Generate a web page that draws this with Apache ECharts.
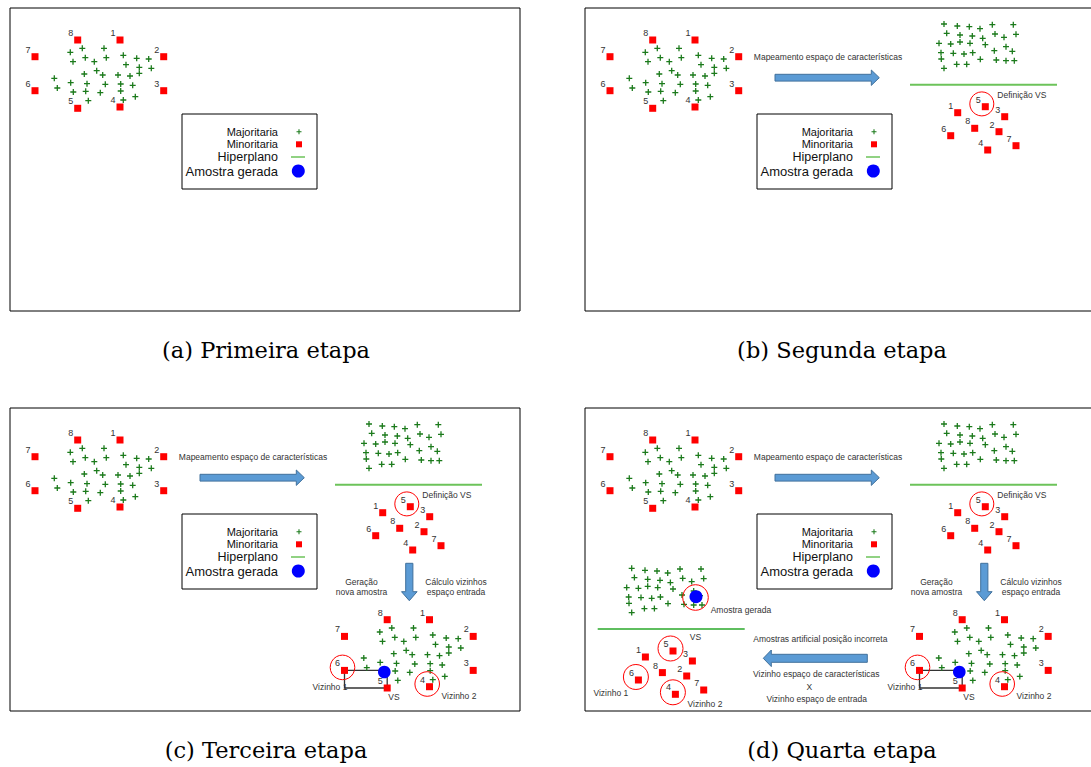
<!DOCTYPE html>
<html><head><meta charset="utf-8">
<script src="https://cdn.jsdelivr.net/npm/echarts@6/dist/echarts.min.js"></script>
<style>html,body{margin:0;padding:0;background:#fff}#c{width:1091px;height:767px}</style>
</head><body><div id="c"></div>
<script>
// ---------------- data (panel-local units) ----------------
const minorityLabels = ['1','2','3','4','5','6','7','8'];
// input space: minority samples 1..8
const inputMinority = [[110,32],[153.7,48.7],[153.7,82.7],[110,99],[67.7,100.3],[25,82.7],[25,48.7],[67.7,32]];
// input space: majority samples
const inputMajority = [[60.3,44.3],[72.3,40.3],[94,40.3],[63,53.7],[75.3,49.7],[84.3,53.7],[96.3,49.7],[113.3,47.3],[126.7,50.3],[138.7,51],[116,56.7],[129.3,59.3],[141.3,60.3],[86.7,62.7],[92.7,67],[74.3,66],[108,67],[120,68],[129.3,65.3],[44.3,70.3],[47.3,80],[60.7,74.7],[77,75.7],[95.3,76.3],[110.7,76],[122.7,77.3],[63.3,84],[75.7,83.3],[90.3,84.7],[110.7,83],[78.3,92.7],[113.3,92],[125.3,88.7]];
// feature space: minority samples 1..8
const featureMinority = [[372.7,104.7],[414,123.7],[419.7,108.7],[402.7,142],[400.3,98.7],[365.7,127.7],[431,137.7],[389.7,120.3]];
// feature space: majority samples
const featureMajority = [[359,16],[372.3,18],[384.3,18.7],[395,20.7],[407.3,16.7],[428.3,16.7],[361.7,25.3],[375,27],[387.3,28],[397.7,30.3],[410,26],[419,29.3],[431,26.3],[354,35.3],[365.7,36],[375,34],[385,35.3],[400.3,36.7],[421,38.7],[427.3,43.3],[409.3,42.7],[356,44.7],[368.3,45.3],[379,46],[387.7,44.7],[356.3,51],[395.3,51.3],[411.3,52],[421,52.7],[429.3,52.7],[359,60.3],[371.7,56.3],[381.7,56.3]];
// hyperplane in feature space
const hyperplane = [[325,76.7],[472,76.7]];
// generated sample (input-space frame / feature-space frame)
const generatedInput = [64.8,84.3];
const generatedFeature = [423.3,44.4];
const legendLabels = ['Majoritaria','Minoritaria','Hiperplano','Amostra gerada'];
const captions = ['(a) Primeira etapa','(b) Segunda etapa','(c) Terceira etapa','(d) Quarta etapa'];
const stepTexts = {
  mapping: 'Mapeamento espaço de características',
  definition: 'Definição VS',
  generation: ['Geração','nova amostra'],
  neighbours: ['Cálculo vizinhos','espaço entrada'],
  vs: 'VS', n1: 'Vizinho 1', n2: 'Vizinho 2',
  generated: 'Amostra gerada',
  wrong: 'Amostras artificial posição incorreta',
  compare: ['Vizinho espaço de características','X','Vizinho espaço de entrada']
};

// ---------------- layout ----------------
const FONT = "'Liberation Sans', Arial, sans-serif";
const PANELS = [[10,8],[585,8],[10,408],[585,408]];
const PW = 510, PH = 303;
const INPUT_SHIFT = [309.5,179.7];
const FEATURE_SHIFT = [-312.3,144.3];
const PLUS = 'path://M2.75,0h1.5v7h-1.5zM0,2.75h7v1.5h-7z';
const GREEN = '#1b7a1b', RED = '#ff0000', LINEG = '#6cc35a', LINEG2 = '#2aa82a', BLUE = '#0000ff', TXT = '#333';

const shift = (pts, d) => pts.map(p => [p[0] + d[0], p[1] + d[1]]);

const T = (x,y,text,size,align,color) => ({x,y,draw:p=>({type:'text',x:p[0],y:p[1],style:{text,fontSize:size||8.5,fontFamily:FONT,fill:color||TXT,align:align||'center',verticalAlign:'middle'}})});
const C = (x,y,r,stroke,fill,lw) => ({x,y,draw:p=>({type:'circle',shape:{cx:p[0],cy:p[1],r},style:{fill:fill||'none',stroke:stroke||'none',lineWidth:lw||1}})});
const R = (x1,y1,x2,y2,stroke,lw) => ({x:x1,y:y1,draw:(p,api)=>{const q=api.coord([x2,y2]);return {type:'rect',shape:{x:Math.min(p[0],q[0]),y:Math.min(p[1],q[1]),width:Math.abs(q[0]-p[0]),height:Math.abs(q[1]-p[1])},style:{fill:'none',stroke,lineWidth:lw||1}};}});
const Ln = (x1,y1,x2,y2,stroke,lw) => ({x:x1,y:y1,draw:(p,api)=>{const q=api.coord([x2,y2]);return {type:'line',shape:{x1:p[0],y1:p[1],x2:q[0],y2:q[1]},style:{stroke,lineWidth:lw||1}};}});
const A = (x1,y1,x2,y2,bw,hw,hl) => ({x:x1,y:y1,draw:(p,api)=>{
  const q=api.coord([x2,y2]); const dx=q[0]-p[0], dy=q[1]-p[1]; const len=Math.hypot(dx,dy);
  const ux=dx/len, uy=dy/len, nx=-uy, ny=ux; const bx=q[0]-ux*hl, by=q[1]-uy*hl;
  const pts=[[p[0]+nx*bw,p[1]+ny*bw],[bx+nx*bw,by+ny*bw],[bx+nx*hw,by+ny*hw],[q[0],q[1]],[bx-nx*hw,by-ny*hw],[bx-nx*bw,by-ny*bw],[p[0]-nx*bw,p[1]-ny*bw]];
  return {type:'polygon',shape:{points:pts},style:{fill:'#5b9bd5',stroke:'#41719c',lineWidth:1}};
}});

function elems(gi, items, z){
  return {type:'custom',xAxisIndex:gi,yAxisIndex:gi,silent:true,clip:false,z:z||4,
    data:items.map(it=>[it.x,it.y]),
    renderItem:(params,api)=>{const it=items[params.dataIndex];const p=api.coord([it.x,it.y]);return it.draw(p,api);}};
}
function majority(gi, pts, size){
  return {type:'scatter',xAxisIndex:gi,yAxisIndex:gi,data:pts,symbol:PLUS,symbolSize:size||6,itemStyle:{color:GREEN,opacity:1},silent:true,z:3};
}
function minority(gi, pts, size){
  return {type:'scatter',xAxisIndex:gi,yAxisIndex:gi,data:pts,symbol:'rect',symbolSize:size||7,itemStyle:{color:RED,opacity:1},silent:true,z:3};
}
function numberLabels(gi, pts){
  return elems(gi, pts.map((p,i)=>T(p[0]-7,p[1]-7,minorityLabels[i],9)), 5);
}
function hyper(gi, pts, color, width){
  return {type:'line',xAxisIndex:gi,yAxisIndex:gi,data:pts,symbol:'none',lineStyle:{color:color||LINEG,width:width||2},silent:true,z:2};
}
function cluster(S, gi, maj, mino){
  S.push(majority(gi, maj));
  S.push(minority(gi, mino));
  S.push(numberLabels(gi, mino));
}

function buildPanel(gi){
  const S = [];
  // stage (a): input space + legend
  cluster(S, gi, inputMajority, inputMinority);
  S.push(elems(gi,[R(172,106,307,181,'#000',1),
    T(268,123.7,legendLabels[0],11,'right','#111'),
    T(268,136.3,legendLabels[1],11,'right','#111'),
    T(268,148.7,legendLabels[2],12.5,'right','#111'),
    T(268,163,legendLabels[3],13,'right','#111'),
    Ln(281,149,295,149,LINEG,1.5),
    C(288.3,163,6.5,null,BLUE)]));
  S.push(majority(gi,[[289,123.7]],5));
  S.push(minority(gi,[[289,136.3]],6));
  if (gi < 1) return S;
  // stage (b): mapping to feature space
  S.push(hyper(gi, hyperplane));
  cluster(S, gi, featureMajority, featureMinority);
  const f5 = featureMinority[4];
  S.push(elems(gi,[T(243,49.3,stepTexts.mapping),A(190,69.7,294.3,69.7,3.4,7.7,8),
    C(f5[0]-3.5,f5[1]-2.8,12,RED),T(412.3,87.3,stepTexts.definition,8.5,'left')]));
  if (gi < 2) return S;
  // stage (c): generation in input space
  const inS = shift(inputMinority, INPUT_SHIFT);
  cluster(S, gi, shift(inputMajority, INPUT_SHIFT), inS);
  const g = shift([generatedInput], INPUT_SHIFT)[0];
  S.push(elems(gi,[R(inS[5][0],inS[5][1],inS[4][0],inS[4][1],'#333',1.3)],2));
  S.push(elems(gi,[A(399.3,155.3,399.3,192.7,3.6,7.8,9),
    T(351.5,174.3,stepTexts.generation[0]),T(351.5,184.3,stepTexts.generation[1]),
    T(446,174.3,stepTexts.neighbours[0]),T(446,184.3,stepTexts.neighbours[1]),
    C(g[0],g[1],6.3,null,BLUE),
    C(inS[5][0]-2,inS[5][1]-3,12.3,RED),C(inS[3][0]-2.3,inS[3][1]-2.7,12.3,RED),
    T(320,279,stepTexts.n1),T(384,289,stepTexts.vs),T(449,288,stepTexts.n2)]));
  if (gi < 3) return S;
  // stage (d): feature-space check
  const fS = shift(featureMinority, FEATURE_SHIFT);
  S.push(hyper(gi, shift(hyperplane, FEATURE_SHIFT), LINEG2, 1.4));
  cluster(S, gi, shift(featureMajority, FEATURE_SHIFT), fS);
  const gf = shift([generatedFeature], FEATURE_SHIFT)[0];
  S.push(elems(gi,[C(gf[0],gf[1],6.5,null,BLUE),C(gf[0]-0.5,gf[1]+0.8,12.8,RED),
    T(125.7,202,stepTexts.generated,8.5,'left'),T(110.5,228.7,stepTexts.vs),
    C(fS[4][0]-2.5,fS[4][1]-2.5,12.5,RED),C(fS[5][0]-2.5,fS[5][1]-3,12.5,RED),C(fS[3][0]-2.5,fS[3][1]-2,12.5,RED),
    T(25.8,284.7,stepTexts.n1),T(120,296,stepTexts.n2),
    A(282.3,250.3,178.3,250.3,4,8.3,8),
    T(235.3,231.3,stepTexts.wrong),T(231.3,266,stepTexts.compare[0]),T(224.3,279.3,stepTexts.compare[1]),T(231.7,290.7,stepTexts.compare[2])]));
  return S;
}

const grids=[], xAxes=[], yAxes=[], series=[];
PANELS.forEach((p,i)=>{
  grids.push({left:p[0],top:p[1],width:PW,height:PH,show:true,borderColor:'#000',borderWidth:1,backgroundColor:'#fff',outerBoundsMode:'none'});
  xAxes.push({type:'value',gridIndex:i,min:0,max:PW,show:false});
  yAxes.push({type:'value',gridIndex:i,min:0,max:PH,inverse:true,show:false});
  buildPanel(i).forEach(s=>series.push(s));
});
const capPos = [[266,338],[842,338],[266,738],[842,738]];
const titles = captions.map((t,i)=>({text:t,left:capPos[i][0],top:capPos[i][1],textAlign:'center',padding:0,
  textStyle:{fontFamily:"'DejaVu Serif', serif",fontSize:22.5,fontWeight:'normal',color:'#000'}}));

const chart = echarts.init(document.getElementById('c'), null, {renderer:'svg', width:1091, height:767});
chart.setOption({animation:false,backgroundColor:'#fff',title:titles,grid:grids,xAxis:xAxes,yAxis:yAxes,series,tooltip:{show:false}});
</script></body></html>
